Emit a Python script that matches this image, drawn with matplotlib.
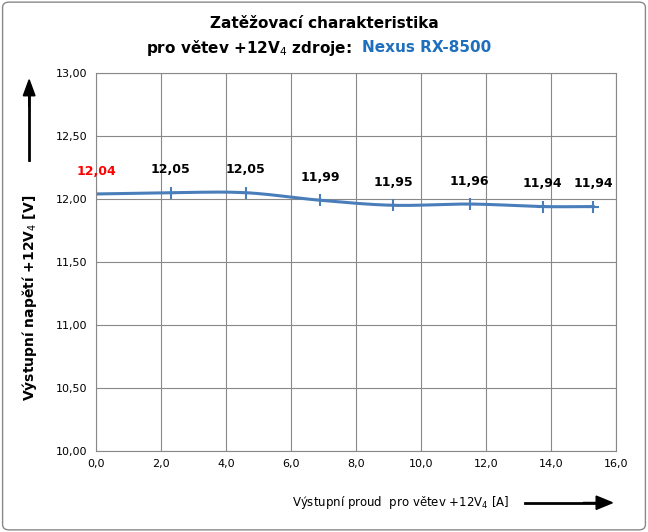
import matplotlib
matplotlib.use("Agg")
import matplotlib.pyplot as plt
import numpy as np
from matplotlib.patches import FancyBboxPatch

current = [0.0, 2.3, 4.6, 6.9, 9.15, 11.5, 13.75, 15.3]
voltage = [12.04, 12.05, 12.05, 11.99, 11.95, 11.96, 11.94, 11.94]
labels = ["12,04", "12,05", "12,05", "11,99", "11,95", "11,96", "11,94", "11,94"]


def smooth(x, y, n=20):
    # Catmull-Rom like Excel's smoothed line
    x = np.asarray(x); y = np.asarray(y)
    px = np.concatenate([[2 * x[0] - x[1]], x, [2 * x[-1] - x[-2]]])
    py = np.concatenate([[2 * y[0] - y[1]], y, [2 * y[-1] - y[-2]]])
    xs, ys = [], []
    t = np.linspace(0, 1, n)
    for i in range(1, len(px) - 2):
        for p, out in ((px, xs), (py, ys)):
            p0, p1, p2, p3 = p[i - 1:i + 3]
            out.extend(0.5 * (2 * p1 + (-p0 + p2) * t + (2 * p0 - 5 * p1 + 4 * p2 - p3) * t**2
                              + (-p0 + 3 * p1 - 3 * p2 + p3) * t**3))
    return xs, ys


fig = plt.figure(figsize=(6.48, 5.32), dpi=100)
fig.patches.append(FancyBboxPatch((0.004, 0.004), 0.992, 0.992, boxstyle="round,pad=0,rounding_size=0.01",
                                  transform=fig.transFigure, fill=False, edgecolor="#888888", lw=1))
ax = fig.add_axes([96 / 648, 81 / 532, 520 / 648, 378 / 532])

sx, sy = smooth(current, voltage)
ax.plot(sx, sy, color="#4a7ebb", lw=2.2)
ax.plot(current, voltage, ls="none", marker="+", ms=9, mew=1.5, color="#4a7ebb")
for i, (x, y, t) in enumerate(zip(current, voltage, labels)):
    ax.annotate(t, (x, y), xytext=(0, 14), textcoords="offset points", ha="center",
                fontsize=9, fontweight="bold", color="red" if i == 0 else "black")

ax.set_xlim(0, 16)
ax.set_ylim(10, 13)
ax.set_xticks(np.arange(0, 16.1, 2))
ax.set_yticks(np.arange(10, 13.01, 0.5))
ax.set_xticklabels([f"{v:.1f}".replace(".", ",") for v in np.arange(0, 16.1, 2)], fontsize=8)
ax.set_yticklabels([f"{v:.2f}".replace(".", ",") for v in np.arange(10, 13.01, 0.5)], fontsize=8)
ax.grid(True, color="#888888", lw=0.8)
ax.tick_params(length=0, pad=6)
for s in ax.spines.values():
    s.set_color("#888888")

fig.text(0.5, 0.955, "Zatěžovací charakteristika", ha="center", va="center", fontsize=11, fontweight="bold")
fig.text(352 / 648, 0.91, "pro větev +12V$_4$ zdroje:", ha="right", va="center", fontsize=11, fontweight="bold")
fig.text(362 / 648, 0.91, "Nexus RX-8500", ha="left", va="center", fontsize=11, fontweight="bold",
         color="#1f6fbf")

fig.text(0.045, 0.44, "Výstupní napětí +12V$_4$ [V]", rotation=90, ha="center", va="center",
         fontsize=10, fontweight="bold")
fig.add_artist(plt.Line2D([0.045, 0.045], [0.70, 0.82], color="black", lw=2))
fig.patches.append(matplotlib.patches.FancyArrow(0.045, 0.8, 0, 0.02, width=0.001, head_width=0.018,
                                                 head_length=0.03, color="black", transform=fig.transFigure))

fig.text(0.45, 0.055, "Výstupní proud  pro větev +12V$_4$ [A]", ha="left", va="center", fontsize=8.5)
fig.add_artist(plt.Line2D([0.81, 0.92], [0.055, 0.055], color="black", lw=2))
fig.patches.append(matplotlib.patches.FancyArrow(0.9, 0.055, 0.02, 0, width=0.001, head_width=0.025,
                                                 head_length=0.025, color="black", transform=fig.transFigure))

fig.savefig("out.png", dpi=100)
